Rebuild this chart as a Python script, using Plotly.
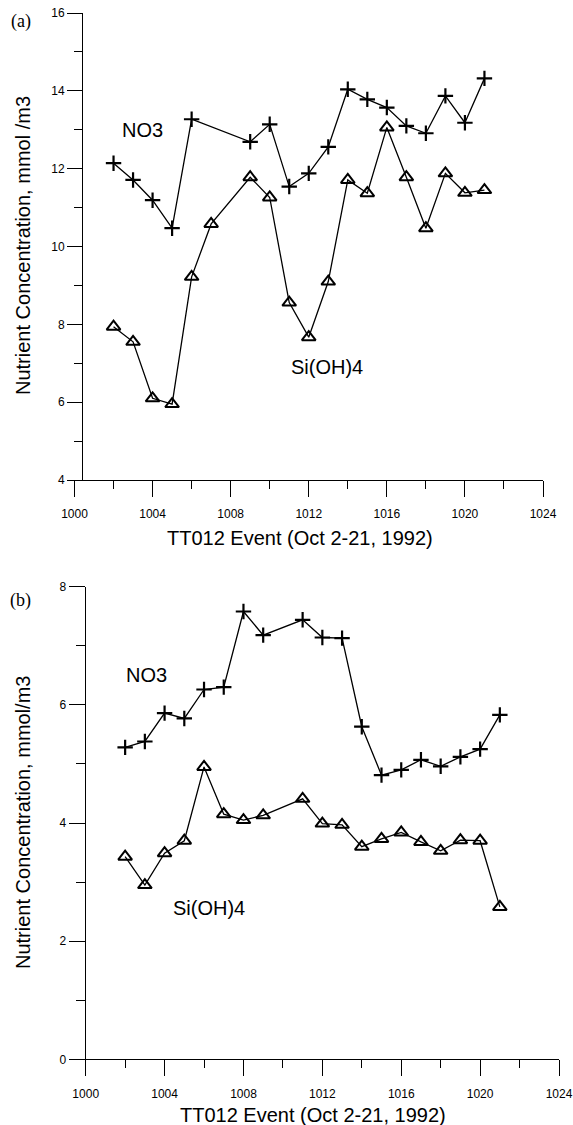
import plotly.graph_objects as go

# ---------------- data ----------------
# Panel (a)
a_no3_x = [1002, 1003, 1004, 1005, 1006, 1009, 1010, 1011, 1012, 1013, 1014, 1015, 1016, 1017, 1018, 1019, 1020, 1021]
a_no3_y = [12.14, 11.71, 11.19, 10.47, 13.27, 12.69, 13.14, 11.54, 11.88, 12.56, 14.04, 13.78, 13.57, 13.10, 12.91, 13.87, 13.18, 14.32]
a_si_x = [1002, 1003, 1004, 1005, 1006, 1007, 1009, 1010, 1011, 1012, 1013, 1014, 1015, 1016, 1017, 1018, 1019, 1020, 1021]
a_si_y = [7.94, 7.55, 6.10, 5.95, 9.22, 10.58, 11.78, 11.26, 8.56, 7.67, 9.10, 11.71, 11.37, 13.06, 11.78, 10.47, 11.88, 11.38, 11.45]

# Panel (b)
b_no3_x = [1002, 1003, 1004, 1005, 1006, 1007, 1008, 1009, 1011, 1012, 1013, 1014, 1015, 1016, 1017, 1018, 1019, 1020, 1021]
b_no3_y = [5.28, 5.38, 5.86, 5.77, 6.26, 6.30, 7.58, 7.18, 7.44, 7.14, 7.13, 5.63, 4.81, 4.90, 5.07, 4.96, 5.12, 5.25, 5.83]
b_si_x = [1002, 1003, 1004, 1005, 1006, 1007, 1008, 1009, 1011, 1012, 1013, 1014, 1015, 1016, 1017, 1018, 1019, 1020, 1021]
b_si_y = [3.43, 2.95, 3.49, 3.70, 4.95, 4.15, 4.05, 4.13, 4.41, 3.99, 3.97, 3.60, 3.73, 3.84, 3.68, 3.53, 3.71, 3.70, 2.58]

x_title = "TT012 Event (Oct 2-21, 1992)"
y_title_a = "Nutrient Concentration, mmol /m3"
y_title_b = "Nutrient Concentration, mmol/m3"

# ---------------- figure ----------------
W, H = 573, 1125
FONT = "Liberation Sans, Arial, sans-serif"
SERIF = "Liberation Serif, Times New Roman, serif"

def px_x(p):
    return p / W

def px_y(p):
    return 1 - p / H

fig = go.Figure()

line_style = dict(color="black", width=1.3)
cross_marker = dict(symbol="cross-thin", size=11, color="black", line=dict(color="black", width=2.2))
tri_marker = dict(symbol="triangle-up-open", size=12, color="black", line=dict(color="black", width=2))

fig.add_trace(go.Scatter(x=a_no3_x, y=a_no3_y, mode="lines+markers", line=line_style,
                         marker=cross_marker, xaxis="x", yaxis="y", showlegend=False, cliponaxis=False))
fig.add_trace(go.Scatter(x=a_si_x, y=a_si_y, mode="lines+markers", line=line_style,
                         marker=tri_marker, xaxis="x", yaxis="y", showlegend=False, cliponaxis=False))
fig.add_trace(go.Scatter(x=b_no3_x, y=b_no3_y, mode="lines+markers", line=line_style,
                         marker=cross_marker, xaxis="x2", yaxis="y2", showlegend=False, cliponaxis=False))
fig.add_trace(go.Scatter(x=b_si_x, y=b_si_y, mode="lines+markers", line=line_style,
                         marker=tri_marker, xaxis="x2", yaxis="y2", showlegend=False, cliponaxis=False))

tickfont = dict(family=FONT, size=12, color="black")

def xaxis_cfg(domain, anchor):
    return dict(domain=domain, anchor=anchor, range=[1000, 1024], tick0=1000, dtick=4,
                showline=True, linecolor="black", linewidth=1, mirror=False, automargin=False,
                ticks="outside", ticklen=16, tickwidth=1, tickcolor="black", ticklabelstandoff=7,
                minor=dict(dtick=2, tick0=1000, ticks="outside", ticklen=8, tickwidth=1, tickcolor="black", showgrid=False),
                showgrid=False, zeroline=False, tickfont=tickfont, fixedrange=True)

def yaxis_cfg(domain, rng, ticklen, minorlen, **kw):
    d = dict(domain=domain, range=rng, tick0=rng[0], dtick=2, automargin=False,
             showline=True, linecolor="black", linewidth=1,
             ticks="outside", ticklen=ticklen, tickwidth=1, tickcolor="black",
             minor=dict(dtick=1, tick0=rng[0], ticks="outside", ticklen=minorlen, tickwidth=1, tickcolor="black", showgrid=False),
             showgrid=False, zeroline=False, tickfont=tickfont, fixedrange=True)
    d.update(kw)
    return d

fig.update_layout(
    template="none",
    width=W, height=H,
    margin=dict(l=0, r=0, t=0, b=0, pad=0, autoexpand=False),
    paper_bgcolor="white", plot_bgcolor="white",
    font=dict(family=FONT, color="black"),
    showlegend=False,
    xaxis=xaxis_cfg([px_x(74.5), px_x(543)], "y"),
    yaxis=yaxis_cfg([px_y(480), px_y(13)], [4, 16], 15, 8, anchor="free", position=px_x(82)),
    xaxis2=xaxis_cfg([px_x(85.7), px_x(559)], "y2"),
    yaxis2=yaxis_cfg([px_y(1059.3), px_y(586.7)], [0, 8], 16, 9, anchor="x2"),
)

lab = dict(family=FONT, size=20, color="black")
C = dict(showarrow=False, xanchor="center", yanchor="middle")
ann = [
    dict(text="NO3", x=1003.46, y=12.99, xref="x", yref="y", font=lab, **C),
    dict(text="Si(OH)4", x=1012.94, y=6.90, xref="x", yref="y", font=lab, **C),
    dict(text="NO3", x=1003.06, y=6.50, xref="x2", yref="y2", font=lab, **C),
    dict(text="Si(OH)4", x=1006.25, y=2.56, xref="x2", yref="y2", font=lab, **C),
    dict(text="(a)", x=px_x(21), y=px_y(21), xref="paper", yref="paper",
         font=dict(family=SERIF, size=18, color="black"), **C),
    dict(text="(b)", x=px_x(20.5), y=px_y(600), xref="paper", yref="paper",
         font=dict(family=SERIF, size=18, color="black"), **C),
    dict(text=y_title_a, x=px_x(23), y=px_y(246), xref="paper", yref="paper",
         textangle=-90, font=lab, **C),
    dict(text=y_title_b, x=px_x(23), y=px_y(823), xref="paper", yref="paper",
         textangle=-90, font=lab, **C),
    dict(text=x_title, x=px_x(299.5), y=px_y(538), xref="paper", yref="paper", font=lab, **C),
    dict(text=x_title, x=px_x(312.8), y=px_y(1115), xref="paper", yref="paper", font=lab, **C),
]
fig.update_layout(annotations=ann)

fig.write_html("out.html")
